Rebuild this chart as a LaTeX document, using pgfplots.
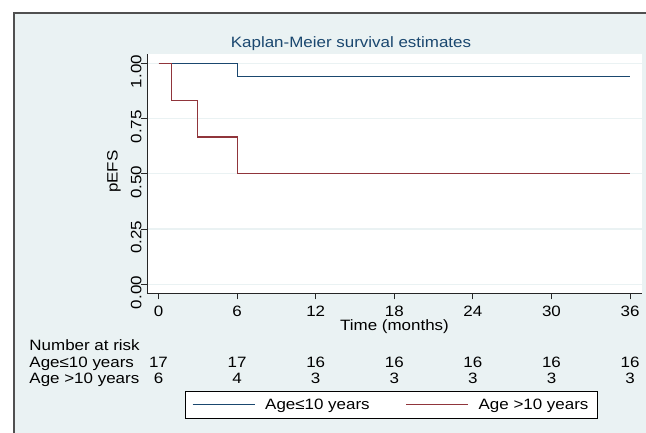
\documentclass[border=0pt]{standalone}
\usepackage{pgfplots}
\pgfplotsset{compat=1.18}
\usepackage{fontspec}
\setmainfont{Liberation Sans}[FakeStretch=1.13]
\definecolor{sbg}{HTML}{EAF2F3}
\definecolor{snavy}{HTML}{1A476F}
\definecolor{smaroon}{HTML}{90353B}
\definecolor{sframe}{HTML}{505050}
\newcommand{\sfont}{\fontsize{15bp}{16bp}\selectfont}
\begin{document}
\begin{tikzpicture}[x=1bp,y=-1bp,font=\sfont]
\useasboundingbox (0,0) rectangle (646,432);
\clip (-10,-10) rectangle (660,445);
\fill[white] (-10,-10) rectangle (660,445);
\filldraw[fill=sbg, draw=sframe, line width=1.2bp] (14,13) rectangle (700,500);
\begin{axis}[
  at={(147.3bp,-293.3bp)}, anchor=south west,
  width=494.4bp, height=239.3bp, scale only axis,
  xmin=-0.855, xmax=36.89, ymin=-0.0407, ymax=1.042,
  clip=false,
  axis x line*=bottom, axis y line*=left,
  axis line style={-, line width=1bp, black!85},
  axis background/.style={fill=white},
  /pgf/number format/assume math mode=true,
  xtick={0,6,12,18,24,30,36},
  xticklabels={0,6,12,18,24,30,36},
  ytick={0,0.25,0.5,0.75,1},
  yticklabels={0.00,0.25,0.50,0.75,1.00},
  tick align=outside, major tick length=6bp,
  tick style={line width=0.9bp, black!85},
  xticklabel style={anchor=base, inner sep=0pt, font=\sfont, yshift=-17.4bp},
  yticklabel style={rotate=90, anchor=base, inner sep=0pt, font=\sfont, xshift=-8.3bp},
  ymajorgrids, major grid style={draw=sbg, line width=1.2bp},
  xlabel={Time (months)},
  xlabel style={at={(axis description cs:0.5,-0.1565)}, anchor=base, inner sep=0pt, font=\sfont},
  ylabel={pEFS},
  ylabel style={at={(axis description cs:-0.0599,0.508)}, anchor=base, inner sep=0pt, font=\sfont},
  legend style={at={(axis description cs:0.07625,-0.40828)}, anchor=north west,
    draw=black, line width=1bp, fill=white, font=\sfont,
    inner xsep=6.7bp, inner ysep=5.5bp, legend columns=2,
    /tikz/every odd column/.append style={column sep=8bp},
    /tikz/every even column/.append style={column sep=34bp}},
  legend image code/.code={\draw[#1, line width=1bp] (0bp,0bp) -- (62bp,0bp);},
  legend cell align=left,
]
\addplot[const plot, color=snavy, draw=snavy, line width=1.1bp] coordinates {(0,1) (6,0.9412) (36,0.9412)};
\addlegendentry{Age≤10 years}
\addplot[const plot, color=smaroon, draw=smaroon, line width=1.1bp] coordinates {(0,1) (1,0.8333) (3,0.6667) (6,0.5) (36,0.5)};
\addlegendentry{Age >10 years}
\addplot[forget plot, draw=none, mark=none, nodes near coords, point meta=explicit symbolic,
  nodes near coords style={anchor=base, inner sep=0pt, font=\sfont, text=black}]
  coordinates {(0,-0.37557)[17] (6,-0.37557)[17] (12,-0.37557)[16] (18,-0.37557)[16] (24,-0.37557)[16] (30,-0.37557)[16] (36,-0.37557)[16]};
\addplot[forget plot, draw=none, mark=none, nodes near coords, point meta=explicit symbolic,
  nodes near coords style={anchor=base, inner sep=0pt, font=\sfont, text=black}]
  coordinates {(0,-0.44796)[6] (6,-0.44796)[4] (12,-0.44796)[3] (18,-0.44796)[3] (24,-0.44796)[3] (30,-0.44796)[3] (36,-0.44796)[3]};
\end{axis}
\node[anchor=base, inner sep=0pt, text=snavy] at (351,47.3) {Kaplan-Meier survival estimates};
\node[anchor=base west, inner sep=0pt] at (29.3,350.7) {Number at risk};
\node[anchor=base west, inner sep=0pt] at (29.3,367.3) {Age≤10 years};
\node[anchor=base west, inner sep=0pt] at (29.3,383.3) {Age >10 years};
\end{tikzpicture}
\end{document}
